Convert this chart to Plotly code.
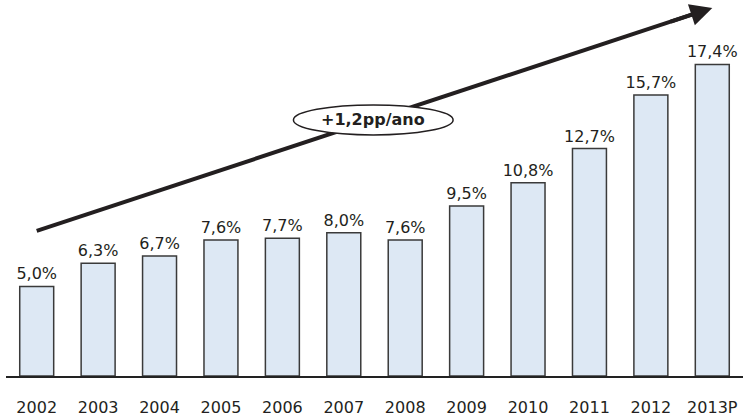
import plotly.graph_objects as go

years = ["2002", "2003", "2004", "2005", "2006", "2007", "2008", "2009", "2010", "2011", "2012", "2013P"]
values = [5.0, 6.3, 6.7, 7.6, 7.7, 8.0, 7.6, 9.5, 10.8, 12.7, 15.7, 17.4]
labels = [f"{v:.1f}%".replace(".", ",") for v in values]
trend_label = "+1,2pp/ano"

FONT = "DejaVu Sans"
DARK = "#231f20"

fig = go.Figure()
fig.add_trace(go.Bar(
    x=years, y=values, text=labels, textposition="outside",
    constraintext="none", cliponaxis=False,
    textfont=dict(family=FONT, size=16, color=DARK),
    marker=dict(color="#dde8f4", line=dict(color="#3a3a3a", width=1.5)),
    hoverinfo="skip",
))

# trend arrow (line + head) and ellipse label
fig.add_shape(type="line", xref="x", yref="y", x0=0, y0=8.1, x1=10.85, y1=20.39,
              line=dict(color=DARK, width=4), layer="above")
fig.add_annotation(x=11, y=20.56, ax=10.3, ay=19.77, xref="x", yref="y",
                   axref="x", ayref="y", showarrow=True, arrowhead=2,
                   arrowsize=1.1, arrowwidth=4, arrowcolor=DARK, text="", standoff=0)
fig.add_shape(type="circle", xref="x", yref="y", x0=4.18, x1=6.78, y0=13.46, y1=15.14,
              line=dict(color=DARK, width=1.5), fillcolor="white", layer="above")
fig.add_annotation(x=5.48, y=14.3, xref="x", yref="y", text=f"<b>{trend_label}</b>",
                   showarrow=False, font=dict(family=FONT, size=16, color=DARK))

fig.update_layout(
    width=743, height=419,
    margin=dict(l=6, r=0, t=0, b=43),
    paper_bgcolor="white", plot_bgcolor="white",
    bargap=0.447, showlegend=False,
    xaxis=dict(type="category", range=[-0.5, 11.5], showline=True, linecolor="#222",
               linewidth=1.5, showgrid=False, ticks="", ticklabelstandoff=16,
               automargin=False,
               tickfont=dict(family=FONT, size=16, color=DARK), fixedrange=True),
    yaxis=dict(range=[0, 21], visible=False, fixedrange=True, automargin=False),
)

fig.write_html("out.html", config={"displayModeBar": False},
               post_script="document.body.style.margin='0';")
